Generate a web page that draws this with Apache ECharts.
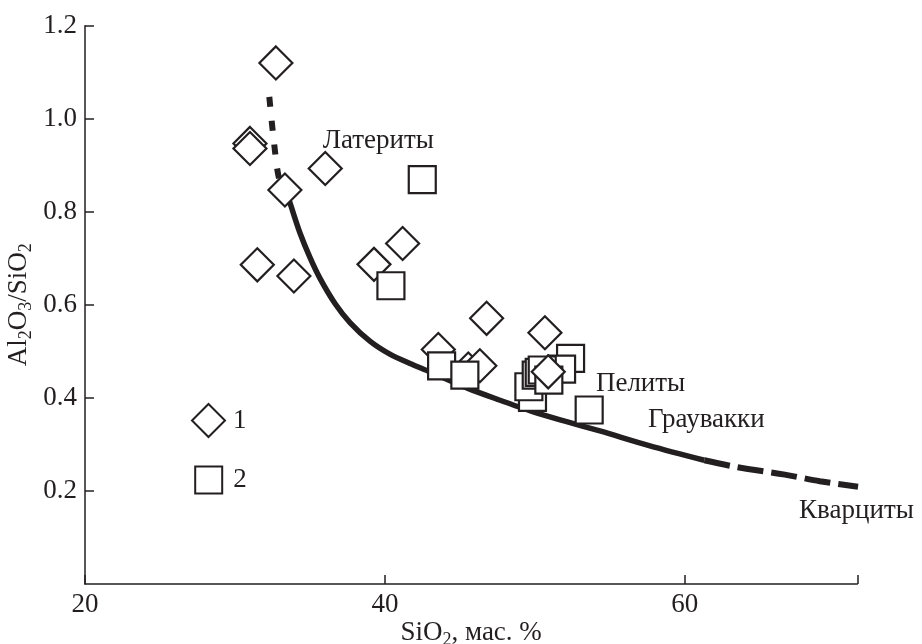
<!DOCTYPE html>
<html>
<head>
<meta charset="utf-8">
<script src="https://cdn.jsdelivr.net/npm/echarts@6/dist/echarts.min.js"></script>
<style>html,body{margin:0;padding:0;background:#fff;}#c{width:922px;height:644px;}</style>
</head>
<body>
<div id="c"></div>
<script>
// Series 1 (diamonds): SiO2, Al2O3/SiO2
const diamondX = [32.73, 31.0, 31.0, 33.33, 31.49, 33.93, 36.02, 41.18, 39.27, 46.78, 50.67, 43.56, 45.56, 46.33];
const diamondY = [1.120, 0.947, 0.936, 0.847, 0.686, 0.662, 0.893, 0.732, 0.687, 0.571, 0.540, 0.504, 0.462, 0.469];
// diamond drawn above the squares
const diamondFrontX = [50.89];
const diamondFrontY = [0.456];
// Series 2 (squares)
const squareX = [42.49, 40.4, 43.78, 45.33, 52.38, 51.78, 49.84, 49.6, 50.09, 50.29, 50.49, 50.93, 53.62];
const squareY = [0.869, 0.641, 0.469, 0.449, 0.485, 0.462, 0.401, 0.424, 0.449, 0.455, 0.460, 0.438, 0.374];
// Trend curve
const curveTopX = [32.29, 32.6, 32.95, 33.4];
const curveTopY = [1.047, 0.95, 0.87, 0.845];
const curveMidX = [33.4, 33.67, 34.33, 35.0, 35.67, 36.67, 37.67, 39.0, 40.33, 41.67, 43.0, 45.5, 47.5, 49.9, 52.0, 54.33, 57.67, 61.3];
const curveMidY = [0.845, 0.819, 0.755, 0.702, 0.657, 0.603, 0.562, 0.522, 0.494, 0.474, 0.456, 0.421, 0.397, 0.370, 0.350, 0.329, 0.297, 0.266];
const curveLowX = [61.3, 63.5, 66.67, 69.0, 71.55];
const curveLowY = [0.266, 0.251, 0.235, 0.221, 0.209];
// Field annotations
const noteNames = ['Латериты', 'Пелиты', 'Граувакки', 'Кварциты'];
const noteX = [35.85, 54.07, 57.55, 67.62];
const noteY = [0.952, 0.430, 0.352, 0.157];
// Axis ticks
const xTicks = [20, 40, 60];
const yTicks = [0.2, 0.4, 0.6, 0.8, 1.0, 1.2];

const zip = (a, b) => a.map((v, i) => [v, b[i]]);
const INK = '#231f20';
const FONT = 'Liberation Serif';
const FS = 27;
const SUB = 18;

const chart = echarts.init(document.getElementById('c'));
const markerStyle = { color: '#ffffff', borderColor: INK, borderWidth: 2.2, opacity: 1 };
const nameRich = {
  n: { fontFamily: FONT, fontSize: FS, color: INK, lineHeight: 32 },
  s: { fontFamily: FONT, fontSize: SUB, color: INK, lineHeight: 18, verticalAlign: 'bottom' }
};

chart.setOption({
  backgroundColor: '#ffffff',
  animation: false,
  textStyle: { fontFamily: FONT, color: INK },
  grid: { left: 85, right: 64.7, top: 25.7, bottom: 60, containLabel: false, outerBoundsMode: 'none' },
  legend: [
    {
      data: [{ name: '1', icon: 'diamond' }],
      left: 191, top: 403, orient: 'vertical', padding: 0,
      itemWidth: 33, itemHeight: 33,
      textStyle: { fontFamily: FONT, fontSize: FS, color: INK, padding: [0, 0, 0, 3] }
    },
    {
      data: [{ name: '2', icon: 'rect' }],
      left: 194.2, top: 465.5, orient: 'vertical', padding: 0,
      itemWidth: 27, itemHeight: 27,
      textStyle: { fontFamily: FONT, fontSize: FS, color: INK, padding: [0, 0, 0, 6] }
    }
  ],
  xAxis: {
    type: 'value', min: 20, max: 71.5, interval: 20,
    axisLine: { lineStyle: { color: INK, width: 1.5 } },
    axisTick: { inside: true, length: 9, lineStyle: { color: INK, width: 1.5 } },
    axisLabel: {
      fontFamily: FONT, fontSize: FS, color: INK, margin: 7,
      formatter: v => (xTicks.indexOf(v) >= 0 ? String(v) : '')
    },
    splitLine: { show: false },
    name: '{n|SiO}{s|2}{n|, мас. %}',
    nameLocation: 'middle', nameGap: 33, nameMoveOverlap: false,
    nameTextStyle: { rich: nameRich }
  },
  yAxis: {
    type: 'value', min: 0, max: 1.2, interval: 0.2,
    axisLine: { lineStyle: { color: INK, width: 1.5 } },
    axisTick: { inside: true, length: 9, lineStyle: { color: INK, width: 1.5 } },
    axisLabel: {
      fontFamily: FONT, fontSize: FS, color: INK, margin: 8, showMinLabel: false,
      formatter: v => (yTicks.some(t => Math.abs(t - v) < 1e-6) ? v.toFixed(1) : '')
    },
    splitLine: { show: false },
    name: '{n|Al}{s|2}{n|O}{s|3}{n|/SiO}{s|2}',
    nameLocation: 'middle', nameRotate: 90, nameGap: 50, nameMoveOverlap: false,
    nameTextStyle: { rich: nameRich }
  },
  series: [
    {
      name: 'curveTop', type: 'line', data: zip(curveTopX, curveTopY), smooth: 0.3,
      symbol: 'none', silent: true, z: 1,
      lineStyle: { color: INK, width: 6, type: [10, 14], cap: 'butt' }
    },
    {
      name: 'curveMid', type: 'line', data: zip(curveMidX, curveMidY), smooth: 0.3,
      symbol: 'none', silent: true, z: 1,
      lineStyle: { color: INK, width: 5.5, cap: 'butt' }
    },
    {
      name: 'curveLow', type: 'line', data: zip(curveLowX, curveLowY), smooth: 0.3,
      symbol: 'none', silent: true, z: 1,
      lineStyle: { color: INK, width: 6, type: [26, 8], cap: 'butt' }
    },
    {
      name: '1', type: 'scatter', symbol: 'diamond', symbolSize: 33, z: 2,
      data: zip(diamondX, diamondY), itemStyle: markerStyle
    },
    {
      name: '2', type: 'scatter', symbol: 'rect', symbolSize: 27, z: 3,
      data: zip(squareX, squareY), itemStyle: markerStyle
    },
    {
      name: '1', type: 'scatter', symbol: 'diamond', symbolSize: 33, z: 4,
      data: zip(diamondFrontX, diamondFrontY), itemStyle: markerStyle
    },
    {
      name: 'notes', type: 'scatter', symbolSize: 0, z: 5, clip: false, silent: true,
      data: noteNames.map((n, i) => ({ name: n, value: [noteX[i], noteY[i]] })),
      label: {
        show: true, position: 'right', distance: 0,
        formatter: p => p.name,
        fontFamily: FONT, fontSize: FS, color: INK, opacity: 1, textBorderWidth: 0
      }
    }
  ]
});
</script>
</body>
</html>
